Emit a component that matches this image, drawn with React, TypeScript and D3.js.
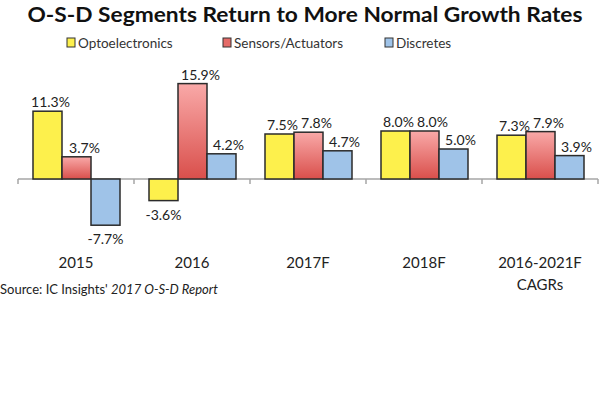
import React from 'react'
import * as d3 from 'd3'

const categories = ['2015', '2016', '2017F', '2018F', '2016-2021F\nCAGRs']
const seriesNames = ['Optoelectronics', 'Sensors/Actuators', 'Discretes']
const opto = [11.3, -3.6, 7.5, 8.0, 7.3]
const sensors = [3.7, 15.9, 7.8, 8.0, 7.9]
const discretes = [-7.7, 4.2, 4.7, 5.0, 3.9]
const seriesValues = [opto, sensors, discretes]
const seriesFills = ['#fdf04c', 'url(#redGrad)', '#9fc3e8']
const legendSwatch = ['#fdf04c', '#e56b68', '#9fc3e8']
// labels sit a little right of the bar centre, as in the original
const labelDx = [3, 8, 7]

const W = 600
const H = 400
const font = 'Lato, "Open Sans", sans-serif'

const App: React.FC = () => {
  const x = d3.scaleBand<string>().domain(categories).range([18, 598]).paddingInner(0)
  const xInner = d3
    .scaleBand<number>()
    .domain([0, 1, 2])
    .range([15, x.bandwidth() - 14])
  const y = d3.scaleLinear().domain([-10, 18]).range([239, 71])
  const zero = y(0)

  const legendX = [67, 223, 385]

  return (
    <svg width={W} height={H} style={{ position: 'absolute', left: 0, top: 0, background: '#fff' }}>
      <defs>
        <linearGradient id="redGrad" x1="0" y1="0" x2="0" y2="1">
          <stop offset="0%" stopColor="#f9a9a8" />
          <stop offset="100%" stopColor="#d94f4b" />
        </linearGradient>
      </defs>

      <text
        x={305}
        y={22}
        textAnchor="middle"
        fontFamily={font}
        fontWeight="bold"
        fontSize={21}
        textLength={555}
        lengthAdjust="spacingAndGlyphs"
        fill="#111"
      >
        O-S-D Segments Return to More Normal Growth Rates
      </text>

      {/* legend */}
      {seriesNames.map((name, i) => (
        <g key={name}>
          <rect x={legendX[i]} y={38} width={8} height={9} fill={legendSwatch[i]} stroke="#333" strokeWidth={1} />
          <text x={legendX[i] + 11} y={48} fontFamily={font} fontSize={13.5} fill="#333">
            {name}
          </text>
        </g>
      ))}

      {/* axis */}
      <line x1={18} x2={598} y1={zero} y2={zero} stroke="#a6a6a6" strokeWidth={1.5} />
      {[...categories.map((c) => x(c) as number), 598].map((t, i) => (
        <line key={i} x1={t} x2={t} y1={zero} y2={zero + 5} stroke="#a6a6a6" strokeWidth={1.5} />
      ))}

      {/* bars */}
      {categories.map((c, ci) => (
        <g key={c} transform={`translate(${x(c)},0)`}>
          {seriesValues.map((vals, si) => {
            const v = vals[ci]
            const bx = xInner(si) as number
            const bw = xInner.bandwidth()
            const top = Math.min(y(v), zero)
            const h = Math.abs(y(v) - zero)
            return (
              <g key={si}>
                <rect x={bx} y={top} width={bw} height={h} fill={seriesFills[si]} stroke="#2b2b2b" strokeWidth={1.5} />
                <text
                  x={bx + bw / 2 + (v >= 0 ? labelDx[si] : 0)}
                  y={v >= 0 ? y(v) - 4 : y(v) + 19}
                  textAnchor="middle"
                  fontFamily={font}
                  fontSize={14}
                  fill="#222"
                >
                  {v.toFixed(1)}%
                </text>
              </g>
            )
          })}
          {c.split('\n').map((line, li) => (
            <text
              key={li}
              x={x.bandwidth() / 2}
              y={268 + li * 22}
              textAnchor="middle"
              fontFamily={font}
              fontSize={15}
              fill="#222"
            >
              {line}
            </text>
          ))}
        </g>
      ))}

      <text x={0} y={294} fontFamily={font} fontSize={13} fill="#222">
        Source: IC Insights' <tspan fontStyle="italic">2017 O-S-D Report</tspan>
      </text>
    </svg>
  )
}

export default App
